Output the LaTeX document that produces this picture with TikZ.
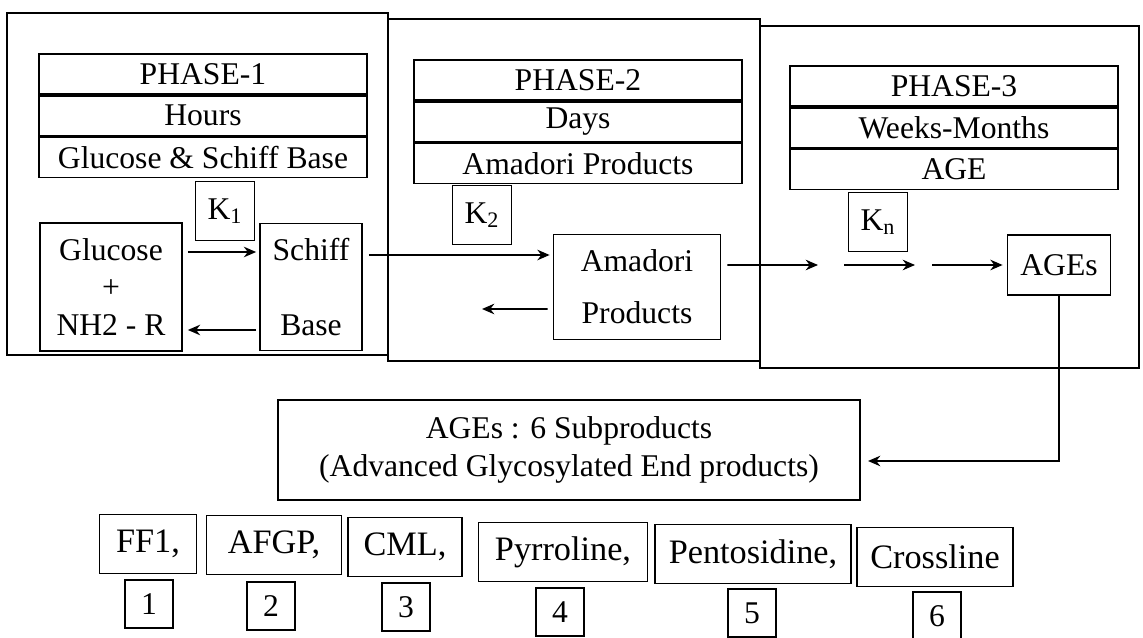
\documentclass[tikz,border=0pt]{standalone}
\usepackage{fontspec}
\setmainfont{Liberation Serif}
\usetikzlibrary{arrows.meta,positioning}

\begin{document}
\begin{tikzpicture}[
    x=0.02cm, y=-0.02cm,
    line width=1pt,
    font=\fontsize{18}{21.5}\selectfont,
    >={Stealth[length=7pt,width=6pt]},
    phaserow/.style={draw, minimum width=6.56cm, minimum height=0.8cm, inner sep=0pt},
    kbox/.style={draw, minimum width=1.18cm, minimum height=1.18cm, inner sep=0pt},
    species/.style={draw, align=center, inner sep=0pt},
    prodbox/.style={draw, minimum height=1.18cm, inner sep=0pt, font=\fontsize{19.5}{22}\selectfont},
    numbox/.style={draw, minimum width=0.96cm, minimum height=0.96cm, inner sep=0pt},
    flow/.style={->}
]
    \useasboundingbox (0,0) rectangle (1143,638);

    % the three phases
    \draw (7,13) rectangle (388,355);
    \draw (388,19) rectangle (760,361);
    \draw (760,26) rectangle (1139,368);

    \node[phaserow] (ph1) at (203,74) {PHASE-1};
    \node[phaserow, below=0pt of ph1] (ph1time) {Hours};
    \node[phaserow, below=0pt of ph1time] (ph1prod) {Glucose \& Schiff Base};

    \node[phaserow] (ph2) at (578,80) {PHASE-2};
    \node[phaserow, below=0pt of ph2] (ph2time) {Days};
    \node[phaserow, below=0pt of ph2time] (ph2prod) {Amadori Products};

    \node[phaserow] (ph3) at (954,86) {PHASE-3};
    \node[phaserow, below=0pt of ph3] (ph3time) {Weeks-Months};
    \node[phaserow, below=0pt of ph3time] (ph3prod) {AGE};

    \node[kbox] (k1) at (225,211) {K\textsubscript{1}};
    \node[kbox] (k2) at (482,215) {K\textsubscript{2}};
    \node[kbox] (kn) at (878,222) {K\textsubscript{n}};

    \node[species, minimum width=2.84cm, minimum height=2.56cm] (glucose) at (111,287) {Glucose\\+\\NH2 - R};
    \node[species, minimum width=2.04cm, minimum height=2.54cm] (schiff) at (311,287) {Schiff\\[\baselineskip]Base};
    \node[species, minimum width=3.34cm, minimum height=2.1cm] (amadori) at (637,287) {Amadori\\[8pt]Products};
    \node[species, minimum width=2.06cm, minimum height=1.2cm] (ages) at (1059,265) {AGEs};

    \node[species, minimum width=11.64cm, minimum height=2cm] (summary) at (569,450) {AGEs : 6 Subproducts\\(Advanced Glycosylated End products)};

    % subproducts
    \node[prodbox, minimum width=1.94cm] (ff1) at (148,544) {FF1,};
    \node[prodbox, minimum width=2.7cm] (afgp) at (274,545) {AFGP,};
    \node[prodbox, minimum width=2.28cm] (cml) at (405,547) {CML,};
    \node[prodbox, minimum width=3.38cm] (pyrroline) at (563,552) {Pyrroline,};
    \node[prodbox, minimum width=3.92cm] (pentosidine) at (753,554) {Pentosidine,};
    \node[prodbox, minimum width=3.12cm] (crossline) at (935,557) {Crossline};

    \node[numbox] (n1) at (149,604) {1};
    \node[numbox] (n2) at (271,606) {2};
    \node[numbox] (n3) at (406,607) {3};
    \node[numbox] (n4) at (560,612) {4};
    \node[numbox] (n5) at (752,613) {5};
    \node[numbox] (n6) at (937,616) {6};

    \coordinate (amback) at (482,309);
    \coordinate (gap1) at (818,265);
    \coordinate (gap2) at (844,265);
    \coordinate (gap3) at (915,265);
    \coordinate (gap4) at (932,265);
    \coordinate (sumin) at (868,461);

    \draw[flow] ([shift={(0.1cm,0.7cm)}]glucose.east) -- ([shift={(-0.06cm,0.7cm)}]schiff.west);
    \draw[flow] ([shift={(-0.06cm,-0.86cm)}]schiff.west) -- ([shift={(0.1cm,-0.86cm)}]glucose.east);
    \draw[flow] ([shift={(0.12cm,0.64cm)}]schiff.east) -- ([shift={(-0.06cm,0.64cm)}]amadori.west);
    \draw[flow] ([shift={(-0.1cm,-0.44cm)}]amadori.west) -- (amback);
    \draw[flow] ([shift={(0.12cm,0.44cm)}]amadori.east) -- (gap1);
    \draw[flow] (gap2) -- (gap3);
    \draw[flow] (gap4) -- ([xshift=-0.08cm]ages.west);
    \draw[flow] (ages.south) |- (sumin);

\end{tikzpicture}
\end{document}
